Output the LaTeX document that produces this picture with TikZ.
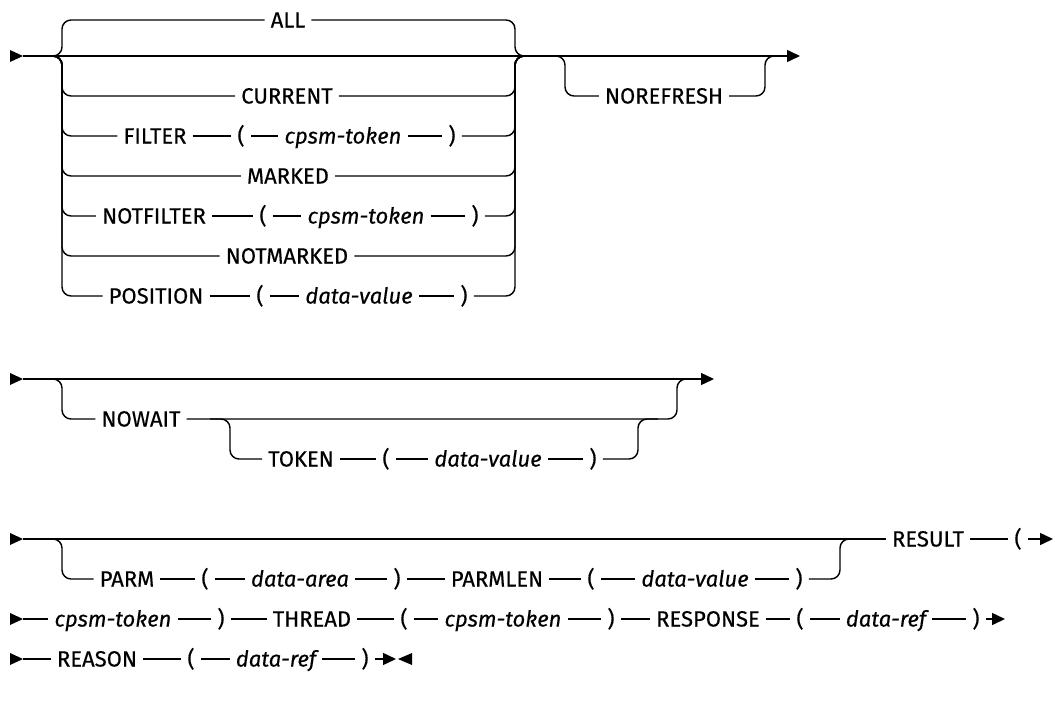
\documentclass[tikz,border=0pt]{standalone}
\usepackage{fontspec}
\setmainfont{Fira Sans}[FakeBold=0.4]
\usetikzlibrary{arrows.meta}
\newcommand\rrfont{\fontsize{22}{26}\selectfont}
\begin{document}
\begin{tikzpicture}[x=1pt,y=-1pt,
  rr/.style={line width=1.45pt, rounded corners=9pt},
  kw/.style={font=\rrfont, inner xsep=6pt, inner ysep=0pt, text height=15pt, text depth=0pt},
  var/.style={kw, font=\rrfont\itshape},
  endarrow/.style={-{Triangle[length=13pt,width=12pt]}},
  startmark/.style={fill=black}]
\useasboundingbox (0,0) rectangle (1055,704);

% ---------------- block 1 ----------------
\coordinate (s1) at (23,56);
\coordinate (e1) at (800,56);
\coordinate (j1L) at (42,56);
\coordinate (j1R) at (535,56);
\coordinate (v1L) at (62,0);
\coordinate (v1R) at (515,0);
\fill[startmark] (10,50) -- (s1) -- (10,62) -- cycle;
\draw[rr,endarrow] (s1) -- (e1);

\node[kw] (all) at (288,20) {ALL};
\node[kw] (cur) at (287,96) {CURRENT};
\node[kw] (fil) at (155,136) {FILTER};
\node[kw] (fillp) at (241,136) {(};
\node[var] (filv) at (343,136) {cpsm-token};
\node[kw] (filrp) at (452,136) {)};
\node[kw] (mar) at (288,176) {MARKED};
\node[kw] (nfil) at (154,216) {NOTFILTER};
\node[kw] (nfillp) at (263,216) {(};
\node[var] (nfilv) at (366,216) {cpsm-token};
\node[kw] (nfilrp) at (475,216) {)};
\node[kw] (nmar) at (287,256) {NOTMARKED};
\node[kw] (pos) at (156,296) {POSITION};
\node[kw] (poslp) at (260,296) {(};
\node[var] (posv) at (359,296) {data-value};
\node[kw] (posrp) at (464,296) {)};

\draw[rr] (j1L) -| (v1L |- all) -- (all);
\draw[rr] (all) -- (v1R |- all) |- (j1R);
\draw[rr] (j1L) -| (v1L |- cur) -- (cur);
\draw[rr] (cur) -- (v1R |- cur) |- (j1R);
\draw[rr] (j1L) -| (v1L |- fil) -- (fil);
\draw[rr] (fil) -- (fillp);
\draw[rr] (fillp) -- (filv);
\draw[rr] (filv) -- (filrp);
\draw[rr] (filrp) -- (v1R |- filrp) |- (j1R);
\draw[rr] (j1L) -| (v1L |- mar) -- (mar);
\draw[rr] (mar) -- (v1R |- mar) |- (j1R);
\draw[rr] (j1L) -| (v1L |- nfil) -- (nfil);
\draw[rr] (nfil) -- (nfillp);
\draw[rr] (nfillp) -- (nfilv);
\draw[rr] (nfilv) -- (nfilrp);
\draw[rr] (nfilrp) -- (v1R |- nfilrp) |- (j1R);
\draw[rr] (j1L) -| (v1L |- nmar) -- (nmar);
\draw[rr] (nmar) -- (v1R |- nmar) |- (j1R);
\draw[rr] (j1L) -| (v1L |- pos) -- (pos);
\draw[rr] (pos) -- (poslp);
\draw[rr] (poslp) -- (posv);
\draw[rr] (posv) -- (posrp);
\draw[rr] (posrp) -- (v1R |- posrp) |- (j1R);

% NOREFRESH
\coordinate (j1a) at (545,56);
\coordinate (j1b) at (785,56);
\coordinate (vnL) at (565,0);
\coordinate (vnR) at (765,0);
\node[kw] (nref) at (664,96) {NOREFRESH};
\draw[rr] (j1a) -| (vnL |- nref) -- (nref);
\draw[rr] (nref) -- (vnR |- nref) |- (j1b);

% ---------------- block 2 ----------------
\coordinate (s2) at (23,379);
\coordinate (e2) at (714,379);
\coordinate (j2L) at (42,379);
\coordinate (j2R) at (697,379);
\coordinate (v2L) at (62,0);
\coordinate (v2R) at (677,0);
\fill[startmark] (10,373) -- (s2) -- (10,385) -- cycle;
\draw[rr,endarrow] (s2) -- (e2);

\node[kw] (nw) at (141,419) {NOWAIT};
\coordinate (j2a) at (210,419);
\coordinate (j2b) at (658,419);
\coordinate (v2a) at (230,0);
\coordinate (v2b) at (638,0);
\node[kw] (tk) at (301,459) {TOKEN};
\node[kw] (tklp) at (386,459) {(};
\node[var] (tkv) at (488,459) {data-value};
\node[kw] (tkrp) at (593,459) {)};

\draw[rr] (j2L) -| (v2L |- nw) -- (nw);
\draw[rr] (nw) -- (v2R |- nw) |- (j2R);
\draw[rr] (j2a) -| (v2a |- tk) -- (tk);
\draw[rr] (tk) -- (tklp);
\draw[rr] (tklp) -- (tkv);
\draw[rr] (tkv) -- (tkrp);
\draw[rr] (tkrp) -- (v2b |- tkrp) |- (j2b);

% ---------------- block 3 ----------------
\coordinate (s3) at (23,539);
\coordinate (e3) at (1053,539);
\coordinate (j3L) at (42,539);
\coordinate (j3R) at (860,539);
\coordinate (v3L) at (62,0);
\coordinate (v3R) at (840,0);
\fill[startmark] (10,533) -- (s3) -- (10,545) -- cycle;

\node[kw] (parm) at (127,579) {PARM};
\node[kw] (parmlp) at (205,579) {(};
\node[var] (parmv) at (300,579) {data-area};
\node[kw] (parmrp) at (397,579) {)};
\node[kw] (plen) at (497,579) {PARMLEN};
\node[kw] (plenlp) at (591,579) {(};
\node[var] (plenv) at (695,579) {data-value};
\node[kw] (plenrp) at (799,579) {)};
\node[kw] (res) at (928,539) {RESULT};
\node[kw] (reslp) at (1018,539) {(};

\draw[rr] (s3) -- (res);
\draw[rr] (res) -- (reslp);
\draw[rr,endarrow] (reslp) -- (e3);
\draw[rr] (j3L) -| (v3L |- parm) -- (parm);
\draw[rr] (parm) -- (parmlp);
\draw[rr] (parmlp) -- (parmv);
\draw[rr] (parmv) -- (parmrp);
\draw[rr] (parmrp) -- (plen);
\draw[rr] (plen) -- (plenlp);
\draw[rr] (plenlp) -- (plenv);
\draw[rr] (plenv) -- (plenrp);
\draw[rr] (plenrp) -- (v3R |- plenrp) |- (j3R);

% ---------------- line 4 ----------------
\coordinate (s4) at (23,619);
\coordinate (e4) at (1005,619);
\fill[startmark] (10,613) -- (s4) -- (10,625) -- cycle;
\node[var] (l4a) at (113,619) {cpsm-token};
\node[kw] (l4b) at (221,619) {)};
\node[kw] (l4c) at (312,619) {THREAD};
\node[kw] (l4d) at (404,619) {(};
\node[var] (l4e) at (503,619) {cpsm-token};
\node[kw] (l4f) at (611,619) {)};
\node[kw] (l4g) at (708,619) {RESPONSE};
\node[kw] (l4h) at (800,619) {(};
\node[var] (l4i) at (886,619) {data-ref};
\node[kw] (l4j) at (976,619) {)};
\draw[rr] (s4) -- (l4a);
\draw[rr] (l4a) -- (l4b);
\draw[rr] (l4b) -- (l4c);
\draw[rr] (l4c) -- (l4d);
\draw[rr] (l4d) -- (l4e);
\draw[rr] (l4e) -- (l4f);
\draw[rr] (l4f) -- (l4g);
\draw[rr] (l4g) -- (l4h);
\draw[rr] (l4h) -- (l4i);
\draw[rr] (l4i) -- (l4j);
\draw[rr,endarrow] (l4j) -- (e4);

% ---------------- line 5 ----------------
\coordinate (s5) at (23,659);
\coordinate (e5) at (396,659);
\fill[startmark] (10,653) -- (s5) -- (10,665) -- cycle;
\node[kw] (l5a) at (97,659) {REASON};
\node[kw] (l5b) at (191,659) {(};
\node[var] (l5c) at (276,659) {data-ref};
\node[kw] (l5d) at (365,659) {)};
\draw[rr] (s5) -- (l5a);
\draw[rr] (l5a) -- (l5b);
\draw[rr] (l5b) -- (l5c);
\draw[rr] (l5c) -- (l5d);
\draw[rr,endarrow] (l5d) -- (e5);
\fill[startmark] (412,653) -- (398,659) -- (412,665) -- cycle;
\end{tikzpicture}
\end{document}
